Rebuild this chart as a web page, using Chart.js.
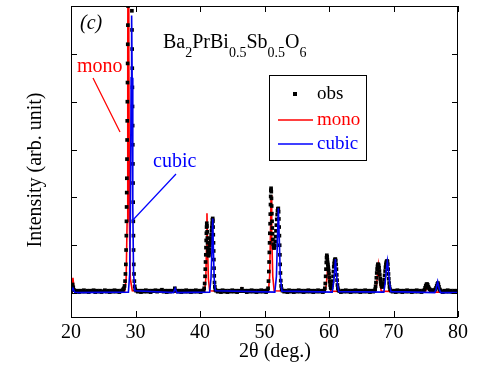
<!DOCTYPE html>
<html>
<head>
<meta charset="utf-8">
<script src="https://cdn.jsdelivr.net/npm/chart.js@4"></script>
<style>
  html, body { margin: 0; padding: 0; background: #fff; }
  canvas { display: block; }
</style>
</head>
<body>
<canvas id="xrd" width="491" height="368"></canvas>
<script>
/* axis ticks */
const xTicks = [20, 30, 40, 50, 60, 70, 80];
const yTicks = [0, 1, 2, 3, 4, 5];

/* observed points [2theta, intensity] */
const obsData = [
  // 20 - 28
  [20.0,.04],[20.15,.12],[20.25,.18],[20.35,.12],[20.5,.06],[20.75,.03],[21.0,.05],[21.25,.02],[21.5,.05],[21.75,.03],
  [22.0,.06],[22.25,.03],[22.5,.05],[22.75,.02],[23.0,.05],[23.25,.04],[23.5,.06],[23.75,.02],[24.0,.05],[24.25,.03],
  [24.5,.05],[24.75,.02],[25.0,.04],[25.25,.06],[25.5,.03],[25.75,.05],[26.0,.02],[26.25,.05],[26.5,.03],[26.75,.06],
  [27.0,.03],[27.25,.05],[27.5,.02],[27.75,.05],[28.0,.06],
  // main peak
  [28.1,.08],[28.2,.1],[28.3,.15],[28.38,.25],[28.44,.4],[28.5,.6],[28.54,.9],[28.58,1.2],[28.6,1.5],[28.62,1.8],
  [28.64,2.1],[28.66,2.4],[28.68,2.8],[28.7,3.2],[28.72,3.6],[28.74,4.0],[28.76,4.4],[28.78,4.8],[28.8,5.2],[28.82,5.6],
  [28.84,6.0],[28.86,6.6],[28.95,7.5],[29.05,6.9],[29.15,6.2],[29.25,6.4],[29.35,6.3],[29.44,5.9],[29.46,5.5],[29.48,5.1],
  [29.5,4.7],[29.52,4.3],[29.54,3.9],[29.56,3.5],[29.58,3.1],[29.6,2.7],[29.62,2.3],[29.64,1.9],[29.66,1.5],[29.68,1.2],
  [29.7,.9],[29.73,.6],[29.77,.4],[29.82,.25],[29.88,.14],[29.95,.08],
  // 30 - 40.6
  [30.1,.05],[30.35,.03],[30.6,.05],[30.85,.02],[31.1,.05],[31.35,.03],[31.6,.06],[31.85,.03],[32.1,.05],[32.35,.02],
  [32.6,.05],[32.85,.04],[33.1,.06],[33.35,.03],[33.6,.05],[33.85,.05],[34.1,.07],[34.35,.03],[34.6,.05],[34.85,.02],
  [35.1,.05],[35.35,.03],[35.6,.05],[35.85,.04],[36.1,.1],[36.35,.05],[36.6,.03],[36.85,.05],[37.1,.02],[37.35,.05],
  [37.6,.03],[37.85,.06],[38.1,.03],[38.35,.05],[38.6,.02],[38.85,.05],[39.1,.03],[39.35,.06],[39.6,.03],[39.85,.05],
  [40.1,.02],[40.35,.05],[40.55,.06],
  // 41 / 42 doublet
  [40.65,.1],[40.72,.2],[40.78,.35],[40.82,.5],[40.86,.65],[40.9,.8],[40.93,.95],[40.96,1.1],[40.99,1.25],[41.02,1.38],
  [41.05,1.46],[41.08,1.4],[41.11,1.28],[41.14,1.15],[41.17,1.05],[41.2,.95],[41.24,.88],[41.28,.82],[41.33,.78],[41.38,.8],
  [41.43,.85],[41.48,.92],[41.53,1.0],[41.58,1.05],[41.63,1.1],[41.68,1.15],[41.73,1.22],[41.78,1.3],[41.83,1.38],[41.88,1.46],
  [41.93,1.53],[41.97,1.56],[42.0,1.5],[42.03,1.38],[42.06,1.22],[42.09,1.05],[42.12,.88],[42.15,.7],[42.18,.52],[42.21,.36],
  [42.25,.22],[42.3,.13],[42.38,.07],
  // 42.5 - 50.5
  [42.5,.05],[42.75,.03],[43.0,.05],[43.25,.02],[43.5,.06],[43.75,.03],[44.0,.05],[44.25,.02],[44.5,.05],[44.75,.03],
  [45.0,.06],[45.25,.03],[45.5,.05],[45.75,.02],[46.0,.05],[46.25,.04],[46.5,.09],[46.75,.04],[47.0,.05],[47.25,.02],
  [47.5,.05],[47.75,.03],[48.0,.06],[48.25,.03],[48.5,.05],[48.75,.02],[49.0,.05],[49.25,.03],[49.5,.06],[49.75,.03],
  [50.0,.05],[50.25,.02],[50.45,.06],
  // 51 / 52 doublet
  [50.55,.1],[50.62,.25],[50.67,.45],[50.71,.65],[50.75,.85],[50.79,1.05],[50.83,1.25],[50.87,1.45],[50.9,1.65],[50.93,1.85],
  [50.96,2.02],[50.99,2.15],[51.02,2.19],[51.05,2.12],[51.08,1.98],[51.11,1.82],[51.14,1.66],[51.17,1.5],[51.21,1.36],[51.25,1.24],
  [51.3,1.12],[51.36,1.02],[51.42,.96],[51.48,.94],[51.54,.96],[51.6,1.0],[51.66,1.08],[51.72,1.18],[51.78,1.3],[51.84,1.42],
  [51.9,1.54],[51.96,1.64],[52.02,1.72],[52.08,1.76],[52.14,1.77],[52.19,1.7],[52.23,1.55],[52.27,1.38],[52.31,1.2],[52.35,1.0],
  [52.39,.8],[52.43,.6],[52.47,.42],[52.52,.26],[52.58,.15],[52.66,.08],
  // 52.8 - 59.3
  [52.8,.05],[53.05,.03],[53.3,.05],[53.55,.02],[53.8,.06],[54.05,.03],[54.3,.05],[54.55,.02],[54.8,.05],[55.05,.03],
  [55.3,.06],[55.55,.03],[55.8,.05],[56.05,.02],[56.3,.05],[56.55,.03],[56.8,.06],[57.05,.03],[57.3,.05],[57.55,.02],
  [57.8,.05],[58.05,.03],[58.3,.06],[58.55,.03],[58.8,.05],[59.05,.02],[59.25,.05],
  // 60 / 61
  [59.35,.1],[59.42,.2],[59.48,.35],[59.53,.5],[59.58,.64],[59.62,.74],[59.66,.79],[59.7,.76],[59.74,.7],[59.78,.64],
  [59.82,.6],[59.86,.56],[59.9,.52],[59.95,.47],[60.0,.4],[60.06,.32],[60.12,.24],[60.18,.17],[60.25,.12],[60.32,.1],
  [60.4,.12],[60.48,.17],[60.55,.25],[60.62,.35],[60.68,.45],[60.74,.55],[60.8,.62],[60.86,.67],[60.92,.7],[60.98,.71],
  [61.04,.68],[61.1,.6],[61.15,.5],[61.2,.38],[61.25,.27],[61.31,.17],[61.38,.1],[61.46,.06],
  // 61.6 - 67.1
  [61.6,.04],[61.85,.02],[62.1,.05],[62.35,.03],[62.6,.06],[62.85,.03],[63.1,.05],[63.35,.02],[63.6,.05],[63.85,.03],
  [64.1,.06],[64.35,.03],[64.6,.05],[64.85,.02],[65.1,.05],[65.35,.03],[65.6,.06],[65.85,.03],[66.1,.05],[66.35,.02],
  [66.6,.05],[66.85,.03],[67.05,.05],
  // 68 / 69
  [67.15,.08],[67.22,.14],[67.28,.22],[67.34,.32],[67.4,.42],[67.46,.5],[67.52,.56],[67.58,.6],[67.64,.6],[67.7,.58],
  [67.76,.53],[67.82,.46],[67.88,.38],[67.94,.3],[68.0,.24],[68.07,.19],[68.14,.15],[68.22,.13],[68.3,.13],[68.38,.16],
  [68.46,.21],[68.54,.28],[68.62,.37],[68.7,.46],[68.76,.54],[68.82,.6],[68.88,.64],[68.94,.66],[69.0,.67],[69.06,.66],
  [69.12,.6],[69.17,.5],[69.22,.4],[69.27,.3],[69.32,.21],[69.38,.13],[69.46,.08],
  // 69.6 - 74.6
  [69.6,.05],[69.85,.03],[70.1,.05],[70.35,.02],[70.6,.06],[70.85,.03],[71.1,.05],[71.35,.02],[71.6,.05],[71.85,.03],
  [72.1,.06],[72.35,.03],[72.6,.05],[72.85,.02],[73.1,.05],[73.35,.03],[73.6,.06],[73.85,.03],[74.1,.05],[74.35,.02],
  [74.6,.05],
  // 75 / 77
  [74.8,.07],[74.9,.11],[75.0,.15],[75.1,.18],[75.2,.19],[75.3,.17],[75.4,.13],[75.5,.1],[75.6,.08],[75.75,.06],
  [75.9,.05],[76.05,.06],[76.2,.05],[76.35,.06],[76.5,.08],[76.6,.11],[76.7,.15],[76.8,.19],[76.88,.21],[76.96,.18],
  [77.05,.13],[77.15,.08],[77.25,.06],
  // 77.4 - 80
  [77.4,.04],[77.65,.02],[77.9,.05],[78.15,.03],[78.4,.06],[78.65,.03],[78.9,.05],[79.15,.02],[79.4,.05],[79.65,.03],
  [79.9,.05],[80.0,.04]
];

/* monoclinic fit */
const monoData = [
  [20.0,.02],[20.15,.1],[20.3,.32],[20.45,.12],[20.7,.04],[21.0,.02],
  [28.3,.02],[28.55,.3],[28.7,1.5],[28.8,5],[28.88,9],[28.96,5],[29.06,1.5],[29.2,.3],[29.5,.05],
  [33.8,.02],[34.0,.06],[34.2,.02],
  [40.7,.02],[40.9,.3],[41.0,.9],[41.08,1.67],[41.18,.9],[41.3,.3],[41.5,.05],
  [46.2,.02],[46.5,.1],[46.8,.02],
  [50.6,.02],[50.8,.35],[50.92,1.2],[51.02,2.05],[51.12,1.2],[51.28,.35],[51.5,.05],
  [59.4,.02],[59.6,.2],[59.75,.45],[59.85,.56],[59.95,.45],[60.1,.2],[60.3,.04],
  [67.2,.02],[67.4,.2],[67.55,.45],[67.65,.58],[67.75,.45],[67.9,.2],[68.1,.04],
  [74.9,.02],[75.1,.08],[75.3,.17],[75.5,.08],[75.7,.02],
  [80.0,.02]
];

/* cubic fit */
const cubicData = [
  [20.0,.01],[20.3,.1],[20.6,.01],
  [28.9,.02],[29.1,.4],[29.22,1.8],[29.32,4.5],[29.4,5.8],[29.48,4.5],[29.58,1.8],[29.7,.4],[29.9,.05],
  [35.9,.01],[36.15,.1],[36.4,.01],
  [41.5,.02],[41.7,.3],[41.85,.9],[41.97,1.56],[42.08,.9],[42.2,.3],[42.4,.05],
  [51.6,.02],[51.85,.35],[52.0,1.1],[52.15,1.77],[52.3,1.1],[52.45,.35],[52.7,.04],
  [60.5,.02],[60.7,.2],[60.9,.5],[61.0,.71],[61.1,.5],[61.3,.2],[61.5,.03],
  [68.5,.02],[68.7,.2],[68.9,.5],[69.05,.67],[69.2,.5],[69.4,.2],[69.6,.03],
  [76.4,.01],[76.6,.08],[76.85,.24],[77.1,.08],[77.3,.01],
  [80.0,.01]
];

const SERIF = '"Liberation Serif", "DejaVu Serif", serif';
const toXY = arr => arr.map(p => ({ x: p[0], y: p[1] }));

/* frame, inner ticks, titles, legend, labels */
const decor = {
  id: "decor",
  afterDraw(chart) {
    const ctx = chart.ctx;
    const a = chart.chartArea;
    const xs = chart.scales.x, ys = chart.scales.y;
    ctx.save();
    ctx.strokeStyle = "#000";
    ctx.lineWidth = 1;
    ctx.strokeRect(a.left + 0.5, a.top + 0.5, a.right - a.left - 1, a.bottom - a.top);

    ctx.beginPath();
    xTicks.forEach(t => {
      const px = Math.round(xs.getPixelForValue(t)) + 0.5;
      ctx.moveTo(px, a.bottom); ctx.lineTo(px, a.bottom - 6);
      ctx.moveTo(px, a.top); ctx.lineTo(px, a.top + 6);
    });
    yTicks.forEach(t => {
      const py = Math.round(ys.getPixelForValue(t)) + 0.5;
      ctx.moveTo(a.left, py); ctx.lineTo(a.left + 6, py);
      ctx.moveTo(a.right, py); ctx.lineTo(a.right - 6, py);
    });
    ctx.stroke();

    ctx.fillStyle = "#000";
    ctx.textBaseline = "middle";

    // axis titles
    ctx.font = "20px " + SERIF;
    ctx.textAlign = "center";
    ctx.fillText("2θ (deg.)", 275, 352);
    ctx.save();
    ctx.translate(36, 170);
    ctx.rotate(-Math.PI / 2);
    ctx.fillText("Intensity (arb. unit)", 0, 0);
    ctx.restore();

    // panel label
    ctx.textAlign = "left";
    ctx.font = "italic 20px " + SERIF;
    ctx.fillText("(c)", 80, 24);

    // compound formula with subscripts
    ctx.textBaseline = "alphabetic";
    let x = 163;
    const parts = [["Ba", 0], ["2", 1], ["PrBi", 0], ["0.5", 1], ["Sb", 0], ["0.5", 1], ["O", 0], ["6", 1]];
    parts.forEach(([t, sub]) => {
      ctx.font = (sub ? "14px " : "20px ") + SERIF;
      ctx.fillText(t, x, sub ? 57 : 48);
      x += ctx.measureText(t).width;
    });
    ctx.textBaseline = "middle";

    // annotations
    ctx.font = "20px " + SERIF;
    ctx.lineWidth = 1.2;
    ctx.fillStyle = "red";
    ctx.fillText("mono", 77, 67);
    ctx.strokeStyle = "red";
    ctx.beginPath(); ctx.moveTo(93, 78); ctx.lineTo(120, 132); ctx.stroke();
    ctx.fillStyle = "blue";
    ctx.fillText("cubic", 153, 162);
    ctx.strokeStyle = "blue";
    ctx.beginPath(); ctx.moveTo(176, 174); ctx.lineTo(132, 221); ctx.stroke();

    // legend box
    ctx.lineWidth = 1;
    ctx.strokeStyle = "#000";
    ctx.strokeRect(269.5, 75.5, 97, 85);
    ctx.font = "19px " + SERIF;
    ctx.fillStyle = "#000";
    ctx.fillRect(293, 92, 4, 4);
    ctx.fillText("obs", 317, 94);
    ctx.fillStyle = "red";
    ctx.fillText("mono", 317, 120);
    ctx.fillStyle = "blue";
    ctx.fillText("cubic", 317, 144);
    ctx.lineWidth = 1.4;
    ctx.strokeStyle = "red";
    ctx.beginPath(); ctx.moveTo(278, 120); ctx.lineTo(313, 120); ctx.stroke();
    ctx.strokeStyle = "blue";
    ctx.beginPath(); ctx.moveTo(278, 144); ctx.lineTo(313, 144); ctx.stroke();
    ctx.restore();
  }
};

new Chart(document.getElementById("xrd").getContext("2d"), {
  type: "scatter",
  data: {
    datasets: [
      {
        label: "cubic",
        data: toXY(cubicData),
        showLine: true,
        borderColor: "#0000ee",
        borderWidth: 1.6,
        pointRadius: 0,
        order: 0
      },
      {
        label: "obs",
        data: toXY(obsData),
        showLine: false,
        pointStyle: "rect",
        pointRadius: 2.6,
        backgroundColor: "#000",
        borderColor: "#000",
        borderWidth: 0,
        order: 1
      },
      {
        label: "mono",
        data: toXY(monoData),
        showLine: true,
        borderColor: "#ff0000",
        borderWidth: 1.6,
        pointRadius: 0,
        order: 2
      }
    ]
  },
  options: {
    responsive: false,
    animation: false,
    devicePixelRatio: 1,
    layout: { padding: { left: 0, right: 33, top: 6, bottom: 0 } },
    plugins: { legend: { display: false }, tooltip: { enabled: false } },
    scales: {
      x: {
        type: "linear",
        min: 20,
        max: 80,
        afterBuildTicks: s => { s.ticks = xTicks.map(v => ({ value: v })); },
        afterFit: s => { s.height = 51; },
        grid: { display: false, drawTicks: false, tickLength: 0 },
        border: { display: false },
        ticks: { color: "#000", font: { family: SERIF, size: 20 }, padding: 4, maxRotation: 0 }
      },
      y: {
        type: "linear",
        min: -0.5,
        max: 6,
        afterFit: s => { s.width = 71; },
        grid: { display: false },
        border: { display: false },
        ticks: { display: false }
      }
    }
  },
  plugins: [decor]
});
</script>
</body>
</html>
